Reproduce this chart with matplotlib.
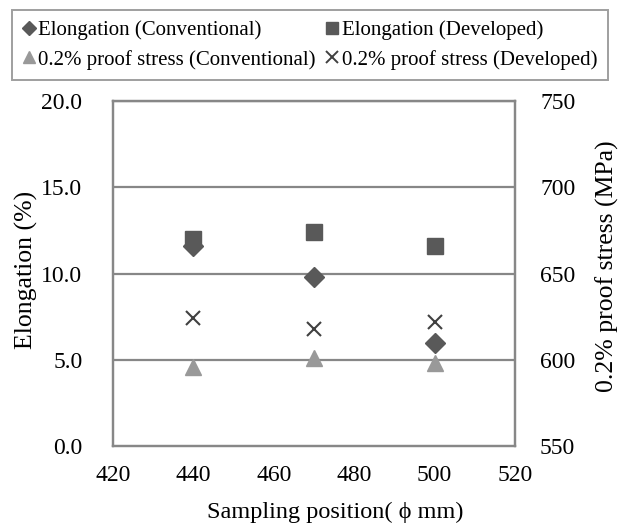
import matplotlib
matplotlib.use("Agg")
import matplotlib.pyplot as plt
from matplotlib.lines import Line2D

plt.rcParams["font.family"] = ["Liberation Serif", "DejaVu Serif"]

# Data
positions = [440, 470, 500]
elong_conv = [11.6, 9.8, 6.0]
elong_dev = [12.0, 12.4, 11.6]
proof_conv = [596, 601, 598]
proof_dev = [624, 618, 622]

x_ticks = [420, 440, 460, 480, 500, 520]
left_ticks = [0.0, 5.0, 10.0, 15.0, 20.0]
right_ticks = [550, 600, 650, 700, 750]

frame_col = "#878787"
dark = "#595959"
light = "#999999"
xcol = "#404040"

fig = plt.figure(figsize=(6.28, 5.27), dpi=100)
ax = fig.add_axes([113 / 628, 1 - 446 / 527, (515 - 113) / 628, (446 - 101) / 527])
ax2 = ax.twinx()

ax.set_xlim(420, 520)
ax.set_ylim(0, 20)
ax2.set_ylim(550, 750)

ax.set_yticks(left_ticks)
ax.set_yticklabels([f"{v:.1f}" for v in left_ticks])
ax.set_xticks(x_ticks)
ax2.set_yticks(right_ticks)

for y in left_ticks[1:]:
    ax.axhline(y, color=frame_col, linewidth=1.6, zorder=1)

for a in (ax, ax2):
    for s in a.spines.values():
        s.set_color(frame_col)
        s.set_linewidth(1.6)
    a.tick_params(length=0, labelsize=17, colors="black")
ax.tick_params(axis="y", pad=22)
ax.tick_params(axis="x", pad=14)
ax2.tick_params(axis="y", pad=18)

ax.plot(positions, elong_conv, linestyle="none", marker="D", markersize=10,
        color=dark, zorder=3)
ax.plot(positions, elong_dev, linestyle="none", marker="s", markersize=11,
        color=dark, zorder=4)
ax2.plot(positions, proof_conv, linestyle="none", marker="^", markersize=12,
         color=light, zorder=3)
ax2.plot(positions, proof_dev, linestyle="none", marker="x", markersize=10,
         markeredgewidth=1.5, color=xcol, zorder=3)

ax.set_xlabel("Sampling position( \u03d5 mm)", fontsize=17.5, va="center")
ax.set_ylabel("Elongation (%)", fontsize=18.5, va="center")
ax2.set_ylabel("0.2% proof stress (MPa)", fontsize=18.5, va="center")
ax.xaxis.set_label_coords((335 - 113) / 402, (446 - 512) / 345)
ax.yaxis.set_label_coords((26 - 113) / 402, (446 - 270) / 345)
ax2.yaxis.set_label_coords((607 - 113) / 402, (446 - 266) / 345)

handles = [
    Line2D([], [], linestyle="none", marker="D", markersize=7, color=dark),
    Line2D([], [], linestyle="none", marker="s", markersize=9, color=dark),
    Line2D([], [], linestyle="none", marker="^", markersize=8, color=light),
    Line2D([], [], linestyle="none", marker="x", markersize=8,
           markeredgewidth=1.4, color=xcol),
]
labels = [
    "Elongation (Conventional)",
    "Elongation (Developed)",
    "0.2% proof stress (Conventional)",
    "0.2% proof stress (Developed)",
]
# legend fills row-wise in the reference; reorder for column-major filling
order = [0, 2, 1, 3]
leg = fig.legend([handles[i] for i in order], [labels[i] for i in order],
                 ncol=2, loc="center", bbox_to_anchor=(310 / 628, 1 - 45 / 527),
                 fontsize=15, frameon=True, fancybox=False, handlelength=0.6,
                 handletextpad=0.15, columnspacing=0.5, borderpad=0.5,
                 labelspacing=0.45)
leg.get_frame().set_edgecolor(frame_col)
leg.get_frame().set_linewidth(1.4)

fig.savefig("out.png", dpi=100)
